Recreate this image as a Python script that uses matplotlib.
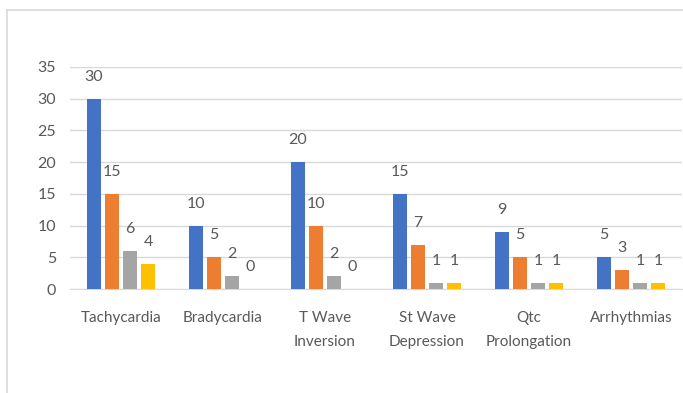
import numpy as np
import matplotlib.pyplot as plt
from matplotlib.lines import Line2D

plt.rcParams['font.family'] = ['Lato', 'DejaVu Sans']

categories = ['Tachycardia', 'Bradycardia', 'T Wave\nInversion',
              'St Wave\nDepression', 'Qtc\nProlongation', 'Arrhythmias']
series_1 = [30, 10, 20, 15, 9, 5]
series_2 = [15, 5, 10, 7, 5, 3]
series_3 = [6, 2, 2, 1, 1, 1]
series_4 = [4, 0, 0, 1, 1, 1]
yticks = [0, 5, 10, 15, 20, 25, 30, 35]

colors = ['#4472C4', '#ED7D31', '#A5A5A5', '#FFC000']
text_color = '#595959'
grid_color = '#D9D9D9'

fig = plt.figure(figsize=(6.83, 3.93), dpi=100)
ax = fig.add_axes([0.1025, 0.2646, 0.896, 0.565])

x = np.arange(len(categories))
width = 0.14
step = 0.177
for i, (vals, c) in enumerate(zip([series_1, series_2, series_3, series_4], colors)):
    pos = x + (i - 1.5) * step
    ax.bar(pos, vals, width, color=c, zorder=3)
    for px, v in zip(pos, vals):
        ax.annotate(str(v), (px, v), xytext=(0, 22), textcoords='offset pixels',
                    ha='center', va='center', fontsize=11.5, color=text_color)

ax.set_xlim(-0.5, len(categories) - 0.5)
ax.set_ylim(0, 35)
ax.set_yticks(yticks)
ax.set_xticks(x)
ax.set_xticklabels(categories, linespacing=1.9)
ax.yaxis.grid(True, color=grid_color, linewidth=1, zorder=0)
ax.tick_params(axis='both', length=0, labelsize=11, labelcolor=text_color)
ax.tick_params(axis='y', labelsize=11.5, pad=10)
ax.tick_params(axis='x', pad=16)
for s in ['top', 'right', 'left']:
    ax.spines[s].set_visible(False)
ax.spines['bottom'].set_color(grid_color)

# chart area border (left and top edges)
fig.add_artist(Line2D([7 / 683, 7 / 683], [0, 1 - 10 / 393], color=grid_color,
                      linewidth=1.2, transform=fig.transFigure))
fig.add_artist(Line2D([7 / 683, 1], [1 - 10 / 393, 1 - 10 / 393], color=grid_color,
                      linewidth=1.2, transform=fig.transFigure))

fig.savefig('out.png', dpi=100)
